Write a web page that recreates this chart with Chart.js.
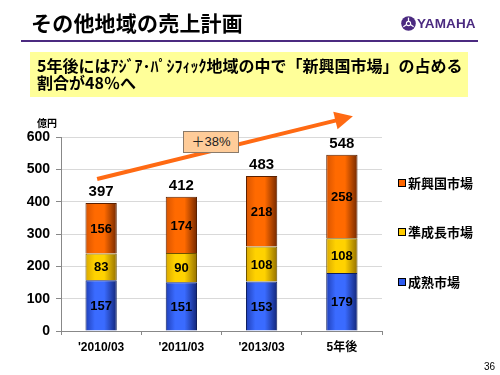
<!DOCTYPE html>
<html>
<head>
<meta charset="utf-8">
<script src="https://cdn.jsdelivr.net/npm/chart.js@4.4.1/dist/chart.umd.min.js"></script>
<style>
  html,body{margin:0;padding:0;background:#fff;}
  #wrap{position:relative;width:500px;height:375px;overflow:hidden;font-family:"Liberation Sans","Noto Sans CJK JP",sans-serif;}
  #c{position:absolute;left:0;top:0;}
  .abs{position:absolute;white-space:nowrap;}
  #title{left:31px;top:12px;font:bold 21px/21px "Noto Sans CJK JP",sans-serif;color:#000;letter-spacing:0.2px;}
  #rule{left:21px;top:40px;width:457px;height:2px;background:#4b2a80;}
  #logoText{left:417px;top:16px;font:bold 13.5px/16px "Liberation Sans",Arial,sans-serif;color:#4b2a80;letter-spacing:0.1px;}
  #logoMark{left:401px;top:16px;}
  #box{left:30px;top:52px;width:438px;height:45px;background:#ffff99;}
  #msg{left:37px;top:57px;font:bold 16px/17px "Noto Sans CJK JP",sans-serif;color:#000;}
  #pct{left:183px;top:131px;width:54px;height:20px;background:#ffcc99;border:1px solid #8a7a6a;font:13px/20px "Liberation Sans","Noto Sans CJK JP",sans-serif;text-align:center;color:#222;}
  #page{right:5px;top:361px;font:10px/12px "Liberation Sans",Arial,sans-serif;color:#000;}
</style>
</head>
<body>
<div id="wrap">
  <canvas id="c" width="500" height="375"></canvas>
  <div id="title" class="abs">その他地域の売上計画</div>
  <div id="rule" class="abs"></div>
  <svg id="logoMark" class="abs" width="15" height="15" viewBox="0 0 14 14">
    <circle cx="7" cy="7" r="6.8" fill="#4b2a80"/>
    <circle cx="7" cy="7" r="2" fill="none" stroke="#fff" stroke-width="1"/>
    <g stroke="#fff" stroke-width="1.2">
      <line x1="7" y1="5" x2="7" y2="1.5"/>
      <line x1="5.3" y1="8" x2="2.2" y2="10"/>
      <line x1="8.7" y1="8" x2="11.8" y2="10"/>
    </g>
  </svg>
  <div id="logoText" class="abs">YAMAHA</div>
  <div id="box" class="abs"></div>
  <div id="msg" class="abs">5年後にはｱｼﾞｱ･ﾊﾟｼﾌｨｯｸ地域の中で「新興国市場」の占める<br>割合が48％へ</div>
  <div id="pct" class="abs">＋38%</div>
  <div id="page" class="abs">36</div>
</div>
<script>
const categories = ["'2010/03", "'2011/03", "'2013/03", "5年後"];
const matureMarket = [157, 151, 153, 179];
const semiGrowthMarket = [83, 90, 108, 108];
const emergingMarket = [156, 174, 218, 258];
const totals = [397, 412, 483, 548];
const seriesNames = ["成熟市場", "準成長市場", "新興国市場"];
const unitLabel = "億円";

const BAR_RATIO = 0.39;
const palettes = [
  {edge:"#1f3fb8", mid:"#3a6bff", dark:"#122578", border:"#0f1f5c", flat:"#2f5cf0"},
  {edge:"#d9a800", mid:"#ffd200", dark:"#947000", border:"#6b5200", flat:"#ffcc00"},
  {edge:"#d85400", mid:"#ff6a00", dark:"#742800", border:"#5a2000", flat:"#ff6600"}
];

function gradientFor(p){
  return function(ctx){
    const chart = ctx.chart;
    const xs = chart.scales && chart.scales.x;
    if(!xs || ctx.type !== 'data' || !chart.chartArea) return p.flat;
    const cx = xs.getPixelForValue(ctx.dataIndex);
    const w = xs.width / categories.length * BAR_RATIO;
    const g = chart.ctx.createLinearGradient(cx - w/2, 0, cx + w/2, 0);
    g.addColorStop(0, p.edge);
    g.addColorStop(0.3, p.mid);
    g.addColorStop(0.6, p.mid);
    g.addColorStop(1, p.dark);
    return g;
  };
}

const seriesData = [matureMarket, semiGrowthMarket, emergingMarket];
const datasets = seriesData.map((d, i) => ({
  label: seriesNames[i],
  data: d,
  backgroundColor: gradientFor(palettes[i]),
  borderColor: palettes[i].border,
  borderWidth: 1,
  borderSkipped: 'bottom',
  barPercentage: BAR_RATIO,
  categoryPercentage: 1.0,
  stack: 's'
}));

const labelsPlugin = {
  id: 'labels',
  afterDatasetsDraw(chart){
    const ctx = chart.ctx;
    ctx.save();
    ctx.fillStyle = '#000';
    ctx.textAlign = 'center';
    ctx.textBaseline = 'middle';
    ctx.font = 'bold 13px "Liberation Sans", Arial, sans-serif';
    chart.data.datasets.forEach((ds, di) => {
      const meta = chart.getDatasetMeta(di);
      meta.data.forEach((el, i) => {
        ctx.fillText(String(ds.data[i]), el.x, (el.y + el.base) / 2 + 1);
      });
    });
    const topMeta = chart.getDatasetMeta(chart.data.datasets.length - 1);
    ctx.font = 'bold 15px "Liberation Sans", Arial, sans-serif';
    topMeta.data.forEach((el, i) => {
      ctx.fillText(String(totals[i]), el.x, el.y - 11);
    });
    ctx.font = 'bold 10px "Noto Sans CJK JP", sans-serif';
    ctx.textAlign = 'left';
    ctx.fillText(unitLabel, 37, chart.chartArea.top - 14);
    ctx.restore();
  }
};

const legendPlugin = {
  id: 'customLegend',
  afterDraw(chart){
    const ctx = chart.ctx;
    const items = [2, 1, 0];
    const rowY = [183, 232, 282];
    ctx.save();
    ctx.font = 'bold 13px "Noto Sans CJK JP", sans-serif';
    ctx.textBaseline = 'middle';
    ctx.textAlign = 'left';
    const x0 = chart.chartArea.right + 16;
    items.forEach((di, k) => {
      const y = rowY[k];
      ctx.fillStyle = palettes[di].flat;
      ctx.fillRect(x0, y - 4, 7, 7);
      ctx.strokeStyle = '#000';
      ctx.lineWidth = 1;
      ctx.strokeRect(x0 + 0.5, y - 3.5, 7, 7);
      ctx.fillStyle = '#000';
      ctx.fillText(chart.data.datasets[di].label, x0 + 10, y);
    });
    ctx.restore();
  }
};

const arrowPlugin = {
  id: 'arrow',
  afterDraw(chart){
    const xs = chart.scales.x, ys = chart.scales.y;
    const ctx = chart.ctx;
    const x1 = xs.getPixelForValue(0) - 4, y1 = ys.getPixelForValue(470);
    const tx = xs.getPixelForValue(3) + 11, ty = ys.getPixelForValue(664);
    const ang = Math.atan2(ty - y1, tx - x1);
    const headLen = 18, headW = 9;
    const bx = tx - headLen * Math.cos(ang), by = ty - headLen * Math.sin(ang);
    ctx.save();
    ctx.strokeStyle = '#ff6a13';
    ctx.lineWidth = 4;
    ctx.beginPath();
    ctx.moveTo(x1, y1);
    ctx.lineTo(bx + 2*Math.cos(ang), by + 2*Math.sin(ang));
    ctx.stroke();
    ctx.fillStyle = '#ff6a13';
    ctx.beginPath();
    ctx.moveTo(tx, ty);
    ctx.lineTo(bx + headW * Math.sin(ang), by - headW * Math.cos(ang));
    ctx.lineTo(bx - headW * Math.sin(ang), by + headW * Math.cos(ang));
    ctx.closePath();
    ctx.fill();
    ctx.restore();
  }
};

new Chart(document.getElementById('c'), {
  type: 'bar',
  data: { labels: categories, datasets: datasets },
  options: {
    responsive: false,
    animation: false,
    devicePixelRatio: 1,
    layout: { padding: { left: 0, top: 137, right: 118, bottom: 0 } },
    plugins: { legend: { display: false }, tooltip: { enabled: false } },
    scales: {
      x: {
        stacked: true,
        offset: true,
        grid: { drawOnChartArea: false, drawTicks: true, tickLength: 4, tickColor: '#888', offset: true },
        border: { color: '#888', width: 1 },
        ticks: { color: '#000', font: { family: '"Liberation Sans","Noto Sans CJK JP",sans-serif', size: 12, weight: 'bold' }, padding: 5, maxRotation: 0 },
        afterFit(scale){ scale.height = 44; }
      },
      y: {
        stacked: true,
        min: 0, max: 600,
        grid: { color: '#d9d9d9', drawTicks: true, tickLength: 5, tickColor: '#888' },
        border: { color: '#888', width: 1 },
        ticks: { stepSize: 100, color: '#000', font: { family: '"Liberation Sans",Arial,sans-serif', size: 14, weight: 'bold' }, padding: 6 },
        afterFit(scale){ scale.width = 61; }
      }
    }
  },
  plugins: [labelsPlugin, legendPlugin, arrowPlugin]
});
</script>
</body>
</html>
